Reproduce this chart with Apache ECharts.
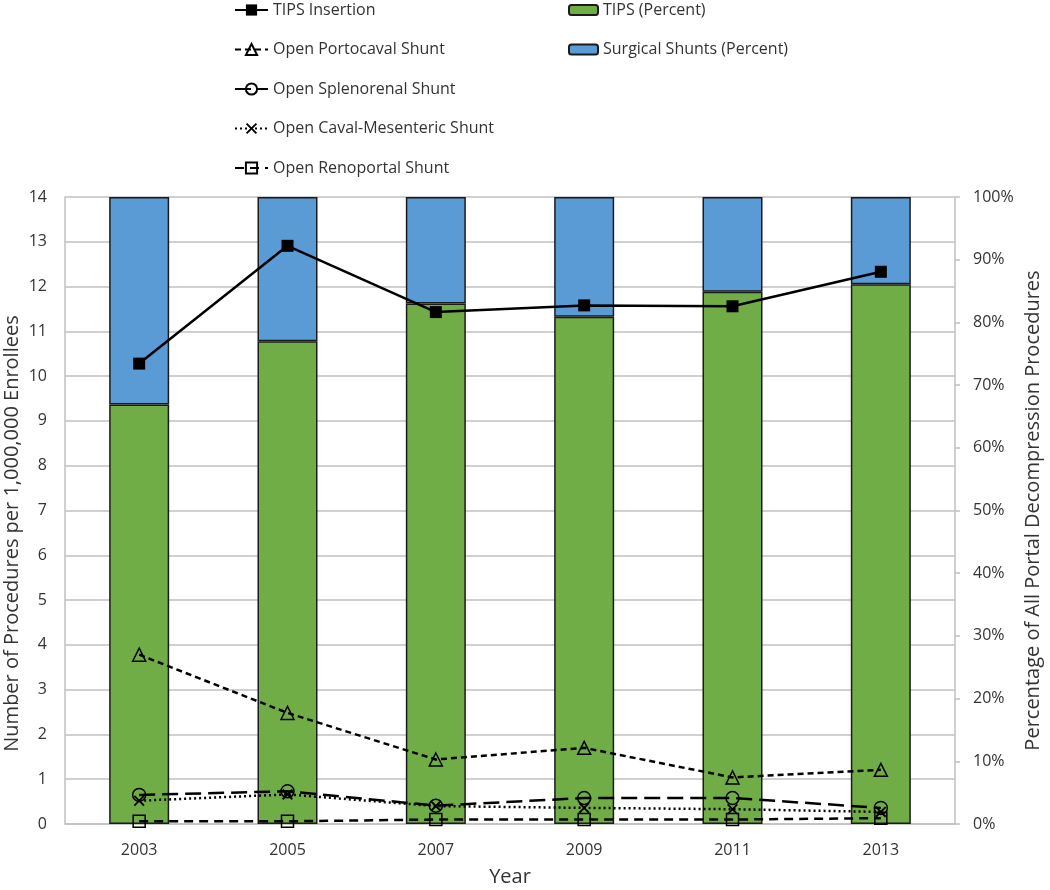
<!DOCTYPE html>
<html>
<head>
<meta charset="utf-8">
<script src="https://cdn.jsdelivr.net/npm/echarts@6/dist/echarts.min.js"></script>
<style>
  html, body { margin: 0; padding: 0; background: #fff; }
  #chart { width: 1050px; height: 890px; }
</style>
</head>
<body>
<div id="chart"></div>
<script>
// ---- data ----
var years = ['2003', '2005', '2007', '2009', '2011', '2013'];
var tipsInsertion = [10.28, 12.91, 11.43, 11.58, 11.56, 12.33];
var portocaval = [3.78, 2.48, 1.44, 1.70, 1.04, 1.21];
var splenorenal = [0.65, 0.73, 0.41, 0.58, 0.58, 0.36];
var cavalMesenteric = [0.52, 0.66, 0.40, 0.36, 0.33, 0.27];
var renoportal = [0.06, 0.06, 0.10, 0.10, 0.10, 0.13];
var tipsPercent = [66.9, 77.0, 83.0, 80.9, 84.9, 86.1];
var surgicalPercent = [33.1, 23.0, 17.0, 19.1, 15.1, 13.9];
var leftTicks = { min: 0, max: 14, interval: 1 };
var rightTicks = { min: 0, max: 100, interval: 10 };

var FONT = '"Open Sans", "Noto Sans", sans-serif';
var TXT = '#333333';
var GRID = '#c0c0c0';

var xShape = 'path://M0,1.2L1.2,0L5,3.8L8.8,0L10,1.2L6.2,5L10,8.8L8.8,10L5,6.2L1.2,10L0,8.8L3.8,5Z';

function lineSeries(name, data, symbol, symSize, dash, width, filled) {
  return {
    name: name, type: 'line', yAxisIndex: 0, data: data,
    symbol: symbol, symbolSize: symSize, showAllSymbol: true,
    lineStyle: { color: '#000', width: width, type: dash },
    itemStyle: filled ? { color: '#000', borderColor: '#000', borderWidth: 0 }
                      : { color: 'rgba(0,0,0,0)', borderColor: '#000', borderWidth: 1.5 },
    emphasis: { disabled: true },
    z: 5
  };
}

var chart = echarts.init(document.getElementById('chart'), null, { renderer: 'canvas' });
chart.setOption({
  animation: false,
  backgroundColor: '#fff',
  textStyle: { fontFamily: FONT, color: TXT },
  grid: { left: 65, right: 95, top: 197, bottom: 66, containLabel: false, outerBoundsMode: 'none' },
  legend: [
    {
      orient: 'vertical', left: 229, top: -3, itemGap: 23.5,
      itemWidth: 33, itemHeight: 14, itemTextGap: 2, itemSymbolKeepAspect: true,
      textStyle: { fontFamily: FONT, fontSize: 16, color: TXT },
      data: ['TIPS Insertion', 'Open Portocaval Shunt', 'Open Splenorenal Shunt', 'Open Caval-Mesenteric Shunt', 'Open Renoportal Shunt']
    },
    {
      orient: 'vertical', left: 563, top: -3, itemGap: 23.5,
      itemWidth: 29, itemHeight: 10, itemTextGap: 2,
      textStyle: { fontFamily: FONT, fontSize: 16, color: TXT },
      data: ['TIPS (Percent)', 'Surgical Shunts (Percent)']
    }
  ],
  xAxis: {
    type: 'category', data: years,
    axisLine: { show: true, lineStyle: { color: GRID, width: 1.5 } },
    axisTick: { show: false },
    axisLabel: { fontSize: 16, color: TXT, margin: 18, fontFamily: FONT },
    name: 'Year', nameLocation: 'middle', nameGap: 43, nameMoveOverlap: false,
    nameTextStyle: { fontSize: 20, color: TXT, fontFamily: FONT }
  },
  yAxis: [
    {
      type: 'value', min: leftTicks.min, max: leftTicks.max, interval: leftTicks.interval,
      axisLine: { show: true, lineStyle: { color: GRID, width: 1.5 } },
      axisTick: { show: false },
      splitLine: { show: true, lineStyle: { color: GRID, width: 1.5 } },
      axisLabel: { fontSize: 16, color: TXT, margin: 18, fontFamily: FONT },
      name: 'Number of Procedures per 1,000,000 Enrollees', nameLocation: 'middle', nameRotate: 90, nameGap: 43,
      nameMoveOverlap: false,
      nameTextStyle: { fontSize: 20, color: TXT, fontFamily: FONT, padding: [0, 46, 0, 0] }
    },
    {
      type: 'value', min: rightTicks.min, max: rightTicks.max, interval: rightTicks.interval,
      position: 'right',
      axisLine: { show: true, lineStyle: { color: GRID, width: 1.5 } },
      axisTick: { show: true, inside: false, length: 5, lineStyle: { color: GRID, width: 1.5 } },
      splitLine: { show: false },
      axisLabel: { fontSize: 16, color: TXT, margin: 18, fontFamily: FONT, formatter: '{value}%' },
      name: 'Percentage of All Portal Decompression Procedures', nameLocation: 'middle', nameRotate: 90, nameGap: 68,
      nameMoveOverlap: false,
      nameTextStyle: { fontSize: 20, color: TXT, fontFamily: FONT }
    }
  ],
  series: [
    lineSeries('TIPS Insertion', tipsInsertion, 'rect', 12, 'solid', 2.5, true),
    lineSeries('Open Portocaval Shunt', portocaval, 'triangle', 13, [6, 4], 2.5, false),
    lineSeries('Open Splenorenal Shunt', splenorenal, 'circle', 13, [16, 7], 2.5, false),
    lineSeries('Open Caval-Mesenteric Shunt', cavalMesenteric, xShape, 11, [2, 3], 2.5, true),
    lineSeries('Open Renoportal Shunt', renoportal, 'rect', 12, [9, 6], 2.5, false),
    {
      name: 'TIPS (Percent)', type: 'bar', stack: 'pct', yAxisIndex: 1, data: tipsPercent,
      barWidth: 60,
      itemStyle: { color: '#70AD47', borderColor: '#1b1b1b', borderWidth: 1.5 },
      emphasis: { disabled: true }, z: 2
    },
    {
      name: 'Surgical Shunts (Percent)', type: 'bar', stack: 'pct', yAxisIndex: 1, data: surgicalPercent,
      barWidth: 60,
      itemStyle: { color: '#5B9BD5', borderColor: '#1b1b1b', borderWidth: 1.5 },
      emphasis: { disabled: true }, z: 2
    }
  ]
});
</script>
</body>
</html>
